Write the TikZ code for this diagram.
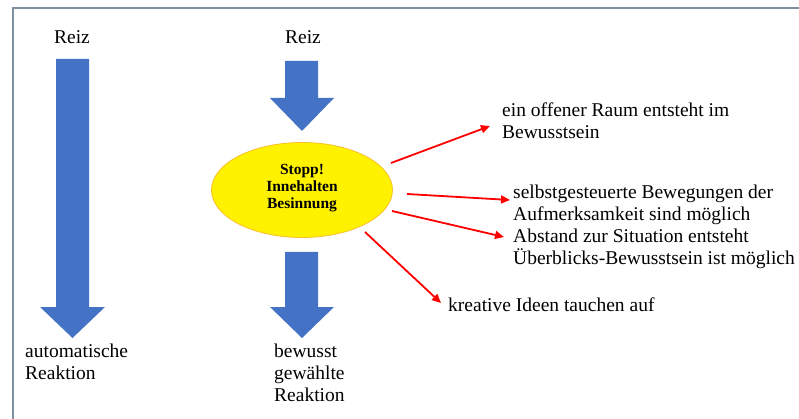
\documentclass[tikz,border=0pt]{standalone}
\usepackage{fontspec}
\setmainfont{Liberation Serif}
\usetikzlibrary{shapes.geometric,arrows.meta}
\definecolor{arrowblue}{RGB}{68,114,196}
\definecolor{framecol}{RGB}{125,145,162}
\definecolor{ellborder}{RGB}{250,190,40}
\tikzset{
  frameline/.style={draw=framecol, line width=2pt},
  blockarrow/.style={fill=arrowblue},
  redarrow/.style={draw=red, line width=1.8pt, -{Triangle[length=9pt,width=8pt]}},
  lbl/.style={inner sep=0pt, align=left, font=\fontsize{19.5}{22}\selectfont},
  stopbox/.style={ellipse, fill=yellow, draw=ellborder, line width=0.8pt, minimum width=181pt, minimum height=95pt, inner sep=0pt},
  stoptext/.style={inner sep=0pt, align=center, font=\fontsize{15.5}{17}\selectfont\bfseries}
}
\begin{document}
\begin{tikzpicture}[x=1pt,y=-1pt]
\useasboundingbox (0,0) rectangle (799,419);
\fill[white] (0,0) rectangle (799,419);
\draw[frameline] (12.5,420) -- (12.5,8.5) -- (800,8.5);

% labels above
\node[lbl] (reiz1) at (72,37) {Reiz};
\node[lbl] (reiz2) at (303,37) {Reiz};

% blue block arrows
\fill[blockarrow] (56,59) -- (89,59) -- (89,307) -- (105,307) -- (72.5,338) -- (40,307) -- (56,307) -- cycle;
\fill[blockarrow] (285,61) -- (318,61) -- (318,98) -- (334,98) -- (302,131) -- (270,98) -- (285,98) -- cycle;
\fill[blockarrow] (285,252) -- (318,252) -- (318,307) -- (334,307) -- (302,338) -- (270,307) -- (285,307) -- cycle;

% ellipse
\node[stopbox] (stop) at (302,190) {};
\node[stoptext] (stoptxt) at (302,188) {Stopp!\\Innehalten\\Besinnung};

% bottom labels (base anchor = baseline of last line)
\node[lbl, anchor=base west] (auto) at (25,379) {automatische\\Reaktion};
\node[lbl, anchor=base west] (bewusst) at (274,401) {bewusst\\gewählte\\Reaktion};

% right labels
\node[lbl, anchor=base west] (t1) at (502,139) {ein offener Raum entsteht im\\Bewusstsein};
\node[lbl, anchor=base west] (t2) at (513,221) {selbstgesteuerte Bewegungen der\\Aufmerksamkeit sind möglich};
\node[lbl, anchor=base west] (t3) at (513,265) {Abstand zur Situation entsteht\\Überblicks-Bewusstsein ist möglich};
\node[lbl, anchor=base west] (t4) at (448,311) {kreative Ideen tauchen auf};

% red arrows
\coordinate (s1) at (391,163); \coordinate (e1) at (490,126);
\coordinate (s2) at (407,194); \coordinate (e2) at (510,200);
\coordinate (s3) at (392,211); \coordinate (e3) at (504,237);
\coordinate (s4) at (365,232); \coordinate (e4) at (441,303);
\draw[redarrow] (s1) -- (e1);
\draw[redarrow] (s2) -- (e2);
\draw[redarrow] (s3) -- (e3);
\draw[redarrow] (s4) -- (e4);
\end{tikzpicture}
\end{document}
